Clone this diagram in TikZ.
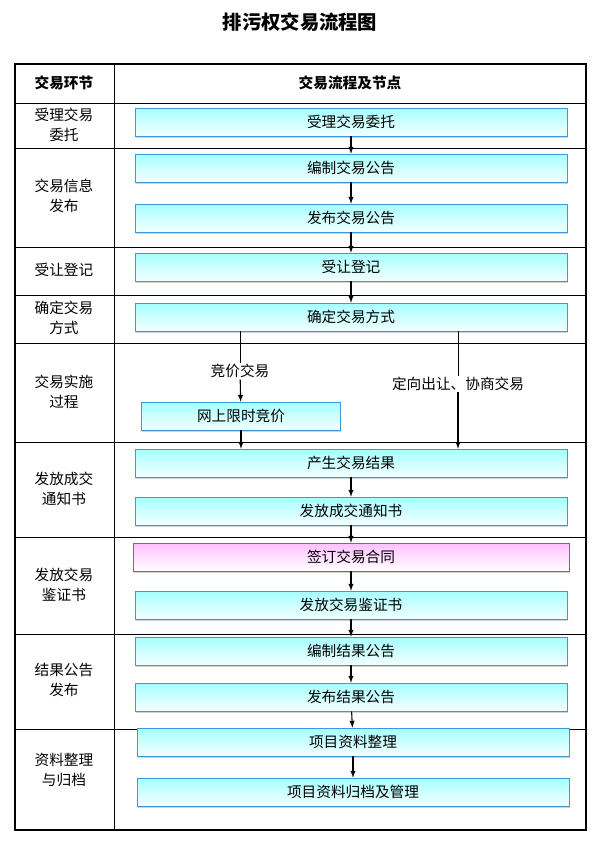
\documentclass[tikz,border=0pt]{standalone}
\usepackage{fontspec}
\setmainfont{Noto Sans CJK SC}
\usetikzlibrary{positioning,shadows}
\tikzset{
  stepbox/.style={draw=cyan!70!blue!80, top color=cyan!35, bottom color=cyan!4,
    minimum height=21pt, inner sep=0pt, font=\fontsize{11}{13}\selectfont,
    drop shadow={shadow xshift=0.6pt, shadow yshift=-1.5pt, fill=gray!70}},
  pinkbox/.style={stepbox, draw=violet!70, top color=magenta!25, bottom color=white},
  stagetext/.style={align=center, font=\fontsize{11}{15}\selectfont},
  arr/.style={-latex, thick},
}
\begin{document}
\begin{tikzpicture}[x=0.75pt,y=-0.75pt]
\useasboundingbox (0,0) rectangle (600,844);
\node (title) at (300,22) {\fontsize{14.5}{16}\selectfont\bfseries 排污权交易流程图};
% table
\draw[thick] (15,64) rectangle (586,830);
\draw (114,64) -- (114,830);
\foreach \y in {103,148,247,295,343,442,537,634,729}
  \draw (15,\y) -- (586,\y);
\node[stagetext] at (64,83) {\bfseries 交易环节};
\node[stagetext] at (350,83) {\bfseries 交易流程及节点};
\node[stagetext] at (64,125) {受理交易\\委托};
\node[stagetext] at (64,196) {交易信息\\发布};
\node[stagetext] at (64,270) {受让登记};
\node[stagetext] at (64,318) {确定交易\\方式};
\node[stagetext] at (64,392) {交易实施\\过程};
\node[stagetext] at (64,489) {发放成交\\通知书};
\node[stagetext] at (64,585) {发放交易\\鉴证书};
\node[stagetext] at (64,680) {结果公告\\发布};
\node[stagetext] at (64,770) {资料整理\\与归档};
% boxes
\node[stepbox, minimum width=324pt] (accept) at (351,122) {受理交易委托};
\node[stepbox, minimum width=324pt] (draft) at (351,168) {编制交易公告};
\node[stepbox, minimum width=324pt] (publish) at (351,218) {发布交易公告};
\node[stepbox, minimum width=324pt] (register) at (351,267) {受让登记};
\node[stepbox, minimum width=324pt] (mode) at (351,317) {确定交易方式};
\node[stepbox, minimum width=149pt] (online) at (241,416) {网上限时竞价};
\node[stepbox, minimum width=324pt] (result) at (351,463) {产生交易结果};
\node[stepbox, minimum width=324pt] (notice) at (351,511) {发放成交通知书};
\node[pinkbox, minimum width=327pt] (contract) at (351,557) {签订交易合同};
\node[stepbox, minimum width=324pt] (cert) at (351,605) {发放交易鉴证书};
\node[stepbox, minimum width=324pt] (rdraft) at (351,651) {编制结果公告};
\node[stepbox, minimum width=324pt] (rpub) at (351,697) {发布结果公告};
\node[stepbox, minimum width=324pt] (sort) at (353,742) {项目资料整理};
\node[stepbox, minimum width=324pt] (archive) at (353,792) {项目资料归档及管理};
% branch labels
\node[font=\fontsize{11}{13}\selectfont, fill=white, inner sep=1pt] (bid) at (240,371) {竞价交易};
\node[font=\fontsize{11}{13}\selectfont, fill=white, inner sep=1pt] (deal) at (458,384) {定向出让、协商交易};
% connectors
\foreach \a/\b in {accept/draft,draft/publish,publish/register,register/mode,
  result/notice,notice/contract,contract/cert,cert/rdraft,rdraft/rpub,rpub/sort,sort/archive}
  \draw[arr] (\a) -- (\b);
\draw (mode.south -| bid) -- (bid);
\draw[arr] (bid) -- (online);
\draw[arr] (online) -- (online |- result.north);
\draw (mode.south -| deal) -- (deal);
\draw[arr] (deal) -- (deal |- result.north);
\end{tikzpicture}
\end{document}
